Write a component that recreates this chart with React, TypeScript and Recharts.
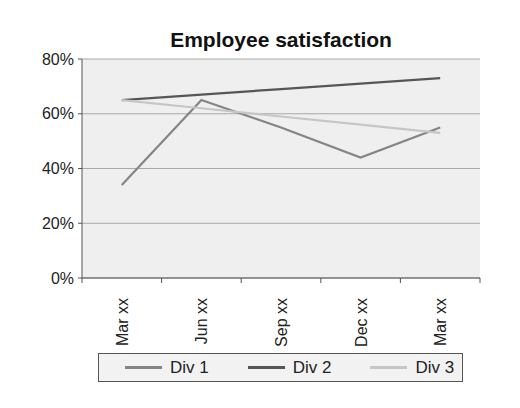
import React from "react";
import { LineChart, Line, XAxis, YAxis, CartesianGrid } from "recharts";

const months = ["Mar xx", "Jun xx", "Sep xx", "Dec xx", "Mar xx"];
const div1 = [34, 65, 55, 44, 55];
const div2 = [65, 67, 69, 71, 73];
const div3 = [65, 62, 59, 56, 53];
const yTicks = [0, 20, 40, 60, 80];
const edgeTicks = [-0.5, 0.5, 1.5, 2.5, 3.5, 4.5];
const centerTicks = [0, 1, 2, 3, 4];

const series = [
  { key: "div1", name: "Div 1", color: "#858585", axis: "a_edges" },
  { key: "div2", name: "Div 2", color: "#565656", axis: "b_cat" },
  { key: "div3", name: "Div 3", color: "#c6c6c6", axis: "b_cat" },
];

const data = months.map((m, i) => ({
  idx: i,
  month: m,
  div1: div1[i],
  div2: div2[i],
  div3: div3[i],
}));

const FONT = "'Liberation Sans', Arial, sans-serif";

const MonthTick = (props: any) => {
  const { x, y, payload } = props;
  const label = months[payload.value] ?? "";
  return (
    <text
      x={x + 6}
      y={y + 11}
      transform={`rotate(-90, ${x + 6}, ${y + 11})`}
      textAnchor="end"
      fontSize={16}
      fontFamily={FONT}
      fill="#222"
    >
      {label}
    </text>
  );
};

const NoTick = () => <g />;

export default function App() {
  return (
    <div style={{ position: "relative", width: 512, height: 392, fontFamily: FONT }}>
      <div
        style={{
          position: "absolute",
          left: 74,
          width: 398,
          top: 21,
          textAlign: "center",
          fontSize: 21,
          lineHeight: "21px",
          fontWeight: "bold",
          color: "#111",
        }}
      >
        Employee satisfaction
      </div>
      <LineChart
        width={512}
        height={392}
        data={data}
        margin={{ top: 51, right: 40, bottom: 47, left: 0 }}
      >
        <CartesianGrid fill="#efefef" vertical={false} stroke="#a9a9a9" />
        <XAxis
          xAxisId="a_edges"
          dataKey="idx"
          type="number"
          domain={[-0.5, 4.5]}
          ticks={edgeTicks}
          allowDataOverflow
          interval={0}
          tick={<NoTick />}
          tickSize={5}
          height={1}
          axisLine={{ stroke: "#555" }}
          tickLine={{ stroke: "#555" }}
        />
        <XAxis
          xAxisId="b_cat"
          dataKey="idx"
          type="number"
          domain={[-0.5, 4.5]}
          ticks={centerTicks}
          allowDataOverflow
          height={74}
          axisLine={false}
          tickLine={false}
          tick={<MonthTick />}
          interval={0}
        />
        <YAxis
          width={74}
          domain={[0, 80]}
          ticks={yTicks}
          tickFormatter={(v: number) => `${v}%`}
          tickSize={4}
          tickMargin={4}
          axisLine={{ stroke: "#555" }}
          tickLine={{ stroke: "#555" }}
          tick={{ fontSize: 16, fill: "#222", fontFamily: FONT }}
        />
        {series.map((s) => (
          <Line
            key={s.key}
            xAxisId={s.axis}
            dataKey={s.key}
            name={s.name}
            stroke={s.color}
            strokeWidth={2.2}
            dot={false}
            activeDot={false}
            isAnimationActive={false}
          />
        ))}
      </LineChart>
      <div
        style={{
          position: "absolute",
          left: 90,
          top: 345,
          width: 365,
          height: 29,
          boxSizing: "border-box",
          border: "1px solid #555",
          background: "#f2f2f2",
          display: "flex",
          alignItems: "center",
          fontSize: 17,
          color: "#222",
        }}
      >
        {series.map((s, i) => (
          <div
            key={s.key}
            style={{
              display: "flex",
              alignItems: "center",
              marginLeft: i === 0 ? 26 : 39,
            }}
          >
            <span
              style={{
                display: "inline-block",
                width: 37,
                height: 3,
                background: s.color,
                marginRight: 8,
              }}
            />
            <span>{s.name}</span>
          </div>
        ))}
      </div>
    </div>
  );
}
